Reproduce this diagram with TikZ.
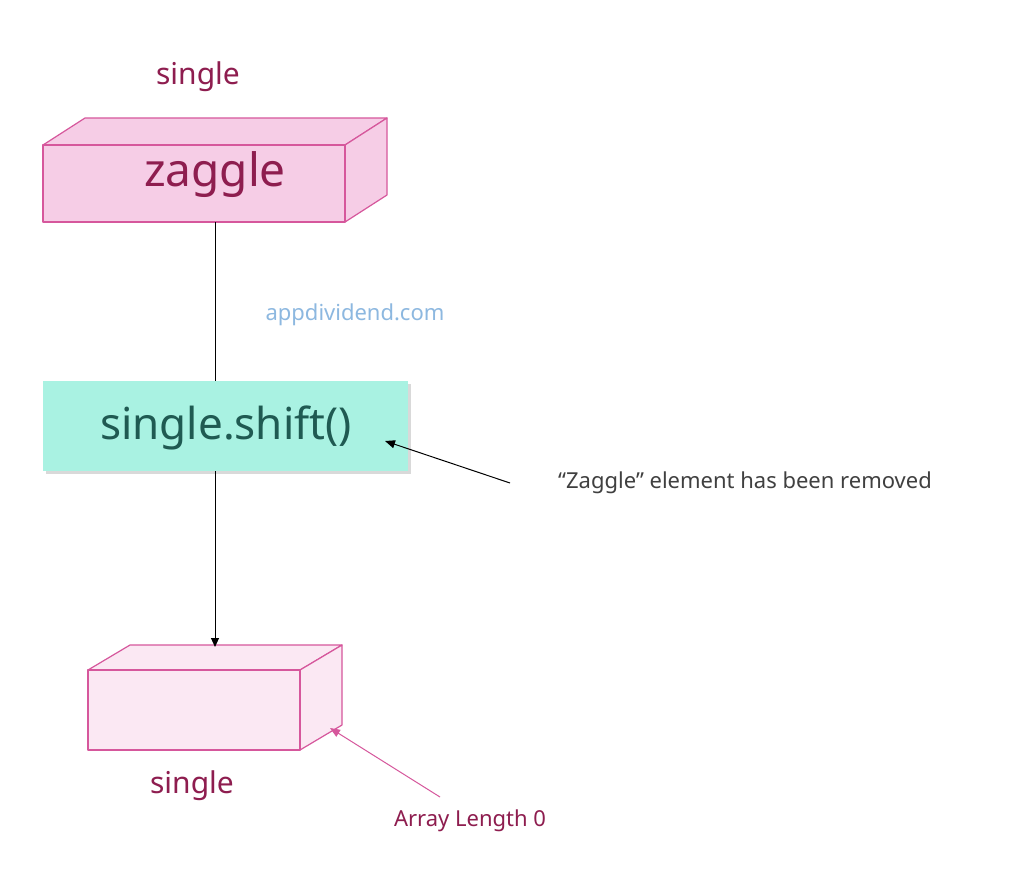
\documentclass[tikz,border=0pt]{standalone}
\usepackage{fontspec}
\setmainfont{Noto Sans}
\usetikzlibrary{arrows.meta}
\definecolor{pk}{HTML}{F6CDE6}
\definecolor{pkl}{HTML}{FBE8F3}
\definecolor{pkd}{HTML}{D6579C}
\definecolor{mag}{HTML}{8E1D4F}
\definecolor{tl}{HTML}{A9F2E2}
\definecolor{tld}{HTML}{1F5A52}
\definecolor{wm}{HTML}{8DB8E0}
\begin{document}
\begin{tikzpicture}[x=1pt,y=-1pt,
  face/.style={draw=pkd,line width=1.2pt,line join=round},
  lbl/.style={font=\fontsize{30}{36}\selectfont,text=mag},
  note/.style={font=\fontsize{22}{26}\selectfont}]
\useasboundingbox[fill=white] (0,0) rectangle (1024,892);
% top box
\filldraw[face,fill=pk] (43,145) -- (85,118) -- (387,118) -- (345,145) -- cycle;
\filldraw[face,fill=pk] (345,145) -- (387,118) -- (387,195) -- (345,222) -- cycle;
\filldraw[face,fill=pk] (43,145) rectangle (345,222);
\node[font=\fontsize{46}{54}\selectfont,text=mag] (z) at (215,175) {zaggle};
\coordinate (zb) at (215,222);
\node[lbl] (s1) at (198,77) {single};
\node[note,text=wm] (w) at (355,315) {appdividend.com};
% shift box
\fill[black!15] (46,384) rectangle (411,474);
\node[fill=tl,minimum width=365pt,minimum height=90pt,inner sep=0pt,anchor=north west] (sh) at (43,381) {};
\node[font=\fontsize{44}{52}\selectfont,text=tld] (sht) at (226,428) {single.shift()};
\draw[line width=1pt] (zb) -- (sh.north -| zb);
% bottom box
\filldraw[face,fill=pkl] (88,670) -- (130,645) -- (342,645) -- (300,670) -- cycle;
\filldraw[face,fill=pkl] (300,670) -- (342,645) -- (342,725) -- (300,750) -- cycle;
\filldraw[face,fill=pkl] (88,670) rectangle (300,750);
\coordinate (bt) at (215,647);
\draw[line width=1pt,-{Triangle[length=9pt,width=8pt]}] (sh.south -| zb) -- (bt);
\node[lbl] (s2) at (192,786) {single};
\node[note,text=mag] (al) at (470,821) {Array Length 0};
\coordinate (alt) at (440,797);
\coordinate (bx) at (330,728);
\draw[line width=1pt,draw=pkd,-{Triangle[length=10pt,width=8pt]}] (alt) -- (bx);
\node[note,text=black!75] (rm) at (745,483) {“Zaggle” element has been removed};
\coordinate (rt) at (510,483);
\coordinate (sx) at (385,441);
\draw[line width=1pt,-{Triangle[length=10pt,width=8pt]}] (rt) -- (sx);
\end{tikzpicture}
\end{document}
